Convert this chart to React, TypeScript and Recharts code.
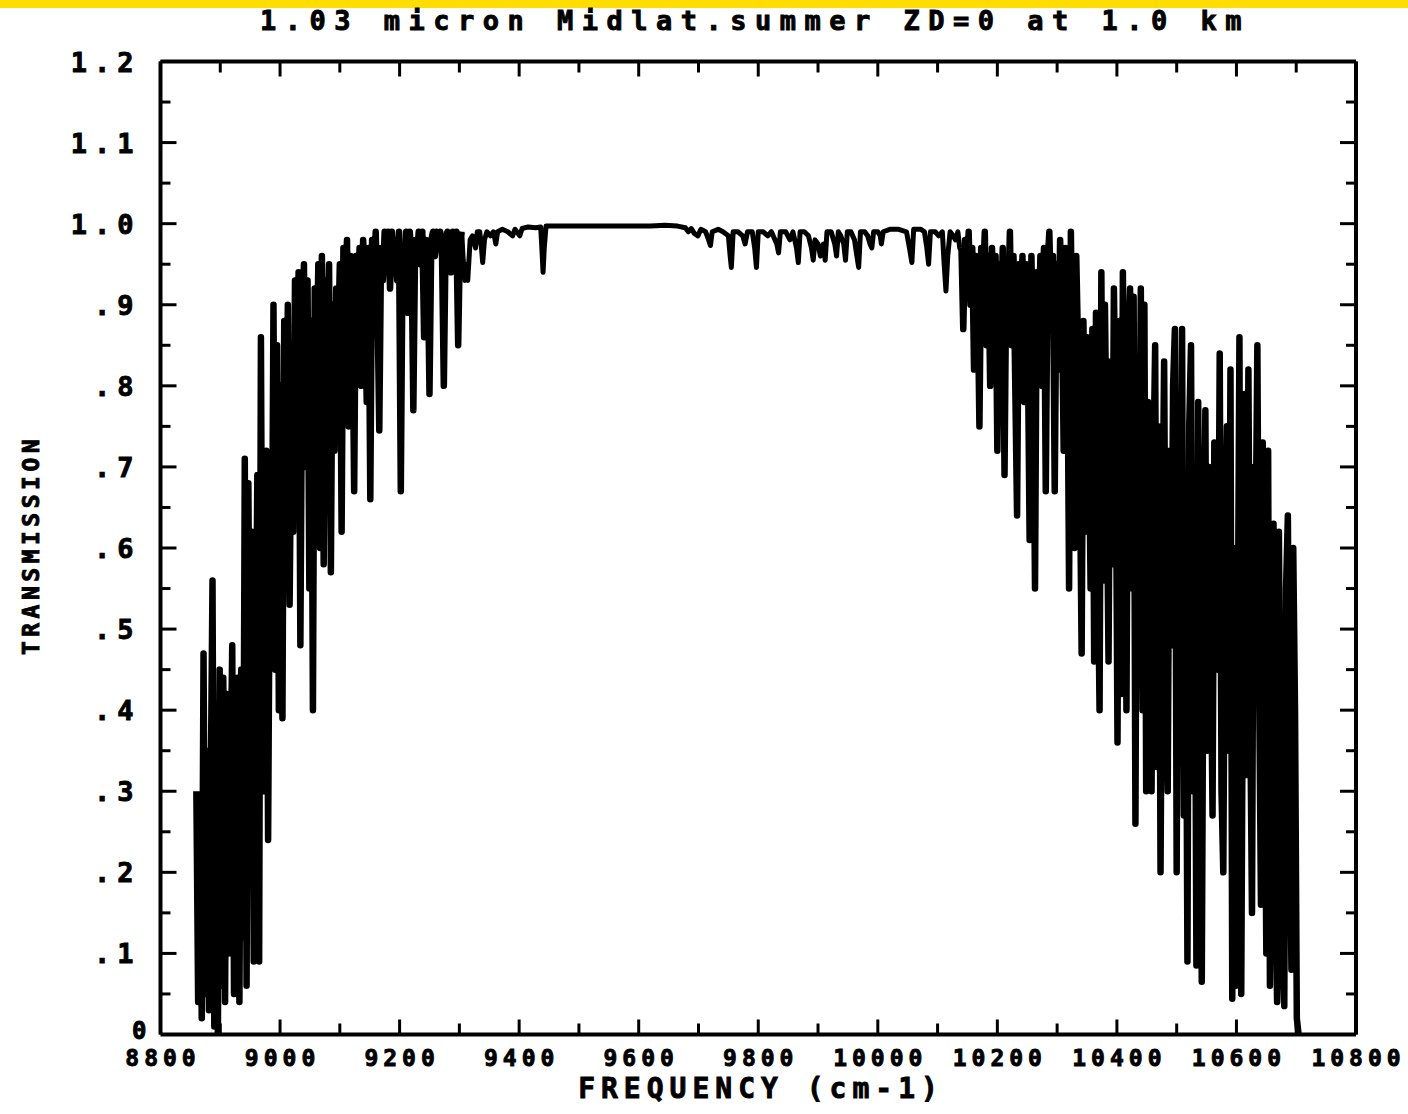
import React from "react";
import { LineChart, Line, XAxis, YAxis } from "recharts";

// Transmission sampled every 3 cm-1 across the two absorption wings
const wingStep = 3;
const lowWingStart = 8860;
const lowWing = [
  0.30, 0.04, 0.25, 0.02, 0.47, 0.05, 0.35, 0.03, 0.30, 0.56,
  0.01, 0.20, 0.00, 0.45, 0.06, 0.44, 0.04, 0.42, 0.10, 0.30,
  0.48, 0.05, 0.38, 0.44, 0.04, 0.45, 0.12, 0.71, 0.06, 0.68,
  0.30, 0.62, 0.09, 0.40, 0.69, 0.09, 0.86, 0.35, 0.30, 0.72,
  0.24, 0.62, 0.50, 0.90, 0.45, 0.85, 0.40, 0.80, 0.39, 0.88,
  0.60, 0.90, 0.53, 0.77, 0.62, 0.93, 0.70, 0.94, 0.48, 0.85,
  0.95, 0.70, 0.93, 0.55, 0.88, 0.40, 0.92, 0.80, 0.95, 0.60,
  0.96, 0.58, 0.93, 0.85, 0.95, 0.57, 0.90, 0.72, 0.92, 0.85,
  0.95, 0.62, 0.97, 0.90, 0.98, 0.75, 0.96, 0.90, 0.67, 0.96,
  0.88, 0.97, 0.80, 0.98, 0.92, 0.78, 0.97, 0.66, 0.98, 0.93,
  0.99, 0.90, 0.745, 0.97, 0.93, 0.99, 0.95, 0.99, 0.92, 0.99,
  0.95, 0.98, 0.93, 0.99, 0.67, 0.97, 0.95, 0.99, 0.89, 0.99,
  0.96, 0.77, 0.98, 0.96, 0.99, 0.95, 0.99, 0.86, 0.98, 0.96,
  0.79, 0.98, 0.99, 0.96, 0.99, 0.97, 0.99, 0.96, 0.80, 0.98,
  0.99, 0.96, 0.94, 0.99, 0.97, 0.99, 0.85, 0.98, 0.99,
];

// Clear window between the bands: [wavenumber, transmission]
const windowBand: [number, number][] = [
  [9306, 0.96], [9309, 0.93], [9312, 0.95], [9314, 0.93], [9318, 0.98],
  [9322, 0.985], [9327, 0.97], [9330, 0.99], [9334, 0.99], [9337, 0.97],
  [9339, 0.952], [9342, 0.98], [9346, 0.99], [9352, 0.985], [9357, 0.99],
  [9361, 0.975], [9364, 0.99], [9372, 0.993], [9381, 0.99], [9389, 0.985],
  [9393, 0.993], [9401, 0.985], [9405, 0.994], [9415, 0.996], [9428, 0.995],
  [9436, 0.996], [9438, 0.97], [9440, 0.94], [9442, 0.97], [9445, 0.997],
  [9500, 0.997], [9560, 0.997], [9620, 0.997], [9644, 0.998], [9665, 0.997],
  [9678, 0.995], [9683, 0.99], [9688, 0.994], [9693, 0.988], [9699, 0.985],
  [9704, 0.993], [9712, 0.99], [9717, 0.98], [9720, 0.973], [9723, 0.99],
  [9733, 0.993], [9741, 0.99], [9750, 0.985], [9753, 0.96], [9755, 0.946],
  [9758, 0.99], [9766, 0.99], [9774, 0.985], [9778, 0.975], [9782, 0.99],
  [9790, 0.99], [9794, 0.97], [9797, 0.946], [9800, 0.99], [9808, 0.99],
  [9816, 0.985], [9822, 0.99], [9831, 0.975], [9834, 0.964], [9837, 0.99],
  [9846, 0.99], [9853, 0.98], [9858, 0.99], [9864, 0.97], [9867, 0.952],
  [9870, 0.99], [9877, 0.99], [9884, 0.985], [9889, 0.97], [9892, 0.955],
  [9895, 0.98], [9900, 0.975], [9904, 0.96], [9909, 0.975], [9912, 0.955],
  [9915, 0.99], [9922, 0.99], [9928, 0.975], [9931, 0.96], [9934, 0.99],
  [9938, 0.985], [9943, 0.975], [9946, 0.955], [9949, 0.99], [9955, 0.99],
  [9961, 0.98], [9965, 0.96], [9968, 0.946], [9971, 0.99], [9978, 0.99],
  [9983, 0.985], [9987, 0.975], [9990, 0.97], [9993, 0.99], [10000, 0.99],
  [10004, 0.985], [10006, 0.975], [10009, 0.99], [10020, 0.993], [10035, 0.993],
  [10048, 0.99], [10053, 0.97], [10057, 0.952], [10060, 0.993], [10072, 0.993],
  [10078, 0.99], [10082, 0.97], [10085, 0.95], [10088, 0.99], [10096, 0.99],
  [10102, 0.985], [10108, 0.99], [10111, 0.95], [10114, 0.917], [10117, 0.96],
  [10121, 0.99], [10126, 0.985], [10130, 0.98], [10134, 0.99], [10137, 0.97],
];

const highWingStart = 10140;
const highWing = [
  0.97, 0.87, 0.98, 0.93, 0.99, 0.90, 0.97, 0.82, 0.96, 0.92,
  0.75, 0.97, 0.93, 0.99, 0.85, 0.96, 0.80, 0.97, 0.88, 0.96,
  0.72, 0.95, 0.86, 0.97, 0.69, 0.95, 0.90, 0.99, 0.85, 0.96,
  0.80, 0.64, 0.95, 0.88, 0.96, 0.78, 0.95, 0.85, 0.61, 0.96,
  0.82, 0.55, 0.94, 0.85, 0.96, 0.80, 0.97, 0.67, 0.95, 0.99,
  0.88, 0.96, 0.67, 0.95, 0.82, 0.98, 0.90, 0.72, 0.97, 0.88,
  0.55, 0.99, 0.80, 0.60, 0.96, 0.85, 0.70, 0.47, 0.88, 0.62,
  0.86, 0.75, 0.55, 0.87, 0.46, 0.89, 0.60, 0.40, 0.94, 0.56,
  0.90, 0.70, 0.46, 0.83, 0.58, 0.92, 0.75, 0.36, 0.88, 0.42,
  0.94, 0.65, 0.40, 0.85, 0.92, 0.55, 0.91, 0.26, 0.80, 0.60,
  0.92, 0.40, 0.90, 0.30, 0.78, 0.55, 0.30, 0.70, 0.85, 0.33,
  0.75, 0.20, 0.60, 0.83, 0.45, 0.30, 0.72, 0.48, 0.80, 0.87,
  0.20, 0.70, 0.55, 0.87, 0.27, 0.60, 0.09, 0.75, 0.85, 0.30,
  0.65, 0.085, 0.78, 0.40, 0.065, 0.55, 0.77, 0.35, 0.70, 0.50,
  0.27, 0.73, 0.55, 0.45, 0.84, 0.30, 0.20, 0.60, 0.75, 0.35,
  0.82, 0.044, 0.60, 0.06, 0.45, 0.86, 0.05, 0.50, 0.79, 0.32,
  0.82, 0.40, 0.15, 0.70, 0.60, 0.85, 0.43, 0.16, 0.73, 0.40,
  0.10, 0.72, 0.06, 0.45, 0.63, 0.20, 0.04, 0.62, 0.30, 0.10,
  0.035, 0.55, 0.64, 0.30, 0.08, 0.60, 0.40, 0.02, 0.00,
];

const freqTicks = [
  8800, 8900, 9000, 9100, 9200, 9300, 9400, 9500, 9600, 9700, 9800,
  9900, 10000, 10100, 10200, 10300, 10400, 10500, 10600, 10700, 10800,
];
const transTicks = [
  0, 0.05, 0.1, 0.15, 0.2, 0.25, 0.3, 0.35, 0.4, 0.45, 0.5, 0.55, 0.6,
  0.65, 0.7, 0.75, 0.8, 0.85, 0.9, 0.95, 1.0, 1.05, 1.1, 1.15, 1.2,
];
const transLabels = ["0", ".1", ".2", ".3", ".4", ".5", ".6", ".7", ".8", ".9", "1.0", "1.1", "1.2"];

const lowPts = lowWing.map((t, i) => ({ f: lowWingStart + i * wingStep, t }));
const highPts = highWing.map((t, i) => ({ f: highWingStart + i * wingStep, t }));
// window trace joins the last low-wing sample to the first high-wing sample
const windowPts = [
  lowPts[lowPts.length - 1],
  ...windowBand.map(([f, t]) => ({ f, t })),
  highPts[0],
];

// heavy pen-plotter lettering
const plotterFont = {
  fontFamily: "'DejaVu Sans Mono', monospace",
  fontWeight: 700,
  fill: "#000",
  stroke: "#000",
  strokeWidth: 0.9,
} as const;

type TickProps = { x?: number; y?: number; payload?: { value: number } };

const freqMajor = (v: number) => v % 200 === 0;
const transMajor = (v: number) => Math.round(v * 100) % 10 === 0;

function BottomTick({ x = 0, y = 0, payload }: TickProps) {
  const v = payload?.value ?? 0;
  const major = freqMajor(v);
  return (
    <g>
      <line x1={x} x2={x} y1={y} y2={y - (major ? 15 : 11)} stroke="#000" strokeWidth={3} />
      {major && (
        <text x={x + 2.5} y={y + 31} textAnchor="middle" fontSize={23} letterSpacing={5} {...plotterFont}>
          {v}
        </text>
      )}
    </g>
  );
}

function TopTick({ x = 0, y = 0, payload }: TickProps) {
  const major = freqMajor(payload?.value ?? 0);
  return <line x1={x} x2={x} y1={y} y2={y + (major ? 15 : 11)} stroke="#000" strokeWidth={3} />;
}

function LeftTick({ x = 0, y = 0, payload }: TickProps) {
  const v = payload?.value ?? 0;
  const major = transMajor(v);
  const idx = Math.round(v * 10);
  if (idx === 0) {
    return (
      <g>
        <text x={x - 14} y={y + 4} textAnchor="end" fontSize={24} {...plotterFont}>
          {transLabels[0]}
        </text>
      </g>
    );
  }
  return (
    <g>
      <line x1={x} x2={x + (major ? 16 : 10)} y1={y} y2={y} stroke="#000" strokeWidth={3} />
      {major && (
        <text x={x - 20} y={y + 10} textAnchor="end" fontSize={27} letterSpacing={7} {...plotterFont}>
          {transLabels[idx]}
        </text>
      )}
    </g>
  );
}

function RightTick({ x = 0, y = 0, payload }: TickProps) {
  const major = transMajor(payload?.value ?? 0);
  return <line x1={x} x2={x - (major ? 16 : 10)} y1={y} y2={y} stroke="#000" strokeWidth={3} />;
}

const frame = { stroke: "#000", strokeWidth: 4 };

export default function App() {
  return (
    <div style={{ position: "absolute", left: 0, top: 0, width: 1408, height: 1114, background: "#fff" }}>
      <div style={{ position: "absolute", left: 0, top: 0, width: 1408, height: 8, background: "#FFDD00" }} />
      <LineChart
        width={1408}
        height={1114}
        margin={{ top: 0, right: 0, bottom: 0, left: 0 }}
        style={{ position: "absolute", left: 0, top: 0 }}
      >
        <XAxis
          xAxisId="bottom"
          dataKey="f"
          type="number"
          domain={[8800, 10800]}
          allowDataOverflow
          ticks={freqTicks}
          interval={0}
          height={79.5}
          tickSize={0}
          tickMargin={0}
          tickLine={false}
          axisLine={frame}
          tick={<BottomTick />}
        />
        <XAxis
          xAxisId="top"
          orientation="top"
          dataKey="f"
          type="number"
          domain={[8800, 10800]}
          allowDataOverflow
          ticks={freqTicks}
          interval={0}
          height={61.5}
          tickSize={0}
          tickMargin={0}
          tickLine={false}
          axisLine={frame}
          tick={<TopTick />}
        />
        <YAxis
          yAxisId="left"
          type="number"
          domain={[0, 1.2]}
          allowDataOverflow
          ticks={transTicks}
          interval={0}
          width={160.5}
          tickSize={0}
          tickMargin={0}
          tickLine={false}
          axisLine={frame}
          tick={<LeftTick />}
        />
        <YAxis
          yAxisId="right"
          orientation="right"
          type="number"
          domain={[0, 1.2]}
          allowDataOverflow
          ticks={transTicks}
          interval={0}
          width={52}
          tickSize={0}
          tickMargin={0}
          tickLine={false}
          axisLine={frame}
          tick={<RightTick />}
        />
        <Line
          data={windowPts}
          xAxisId="bottom"
          yAxisId="left"
          dataKey="t"
          type="linear"
          stroke="#000"
          strokeWidth={5}
          strokeLinejoin="round"
          dot={false}
          isAnimationActive={false}
        />
        <Line
          data={lowPts}
          xAxisId="bottom"
          yAxisId="left"
          dataKey="t"
          type="linear"
          stroke="#000"
          strokeWidth={6.5}
          strokeLinejoin="round"
          dot={false}
          isAnimationActive={false}
        />
        <Line
          data={highPts}
          xAxisId="bottom"
          yAxisId="left"
          dataKey="t"
          type="linear"
          stroke="#000"
          strokeWidth={6.5}
          strokeLinejoin="round"
          dot={false}
          isAnimationActive={false}
        />
      </LineChart>
      <svg width={1408} height={1114} style={{ position: "absolute", left: 0, top: 0, pointerEvents: "none" }}>
        <text x={755} y={30} textAnchor="middle" fontSize={27} letterSpacing={8.5} {...plotterFont}>
          1.03 micron Midlat.summer ZD=0 at 1.0 km
        </text>
        <text x={761} y={1098} textAnchor="middle" fontSize={28} letterSpacing={6} {...plotterFont}>
          FREQUENCY (cm-1)
        </text>
        <text
          x={39}
          y={545}
          transform="rotate(-90 39 545)"
          textAnchor="middle"
          fontSize={23}
          letterSpacing={4.5}
          {...plotterFont}
        >
          TRANSMISSION
        </text>
      </svg>
    </div>
  );
}
